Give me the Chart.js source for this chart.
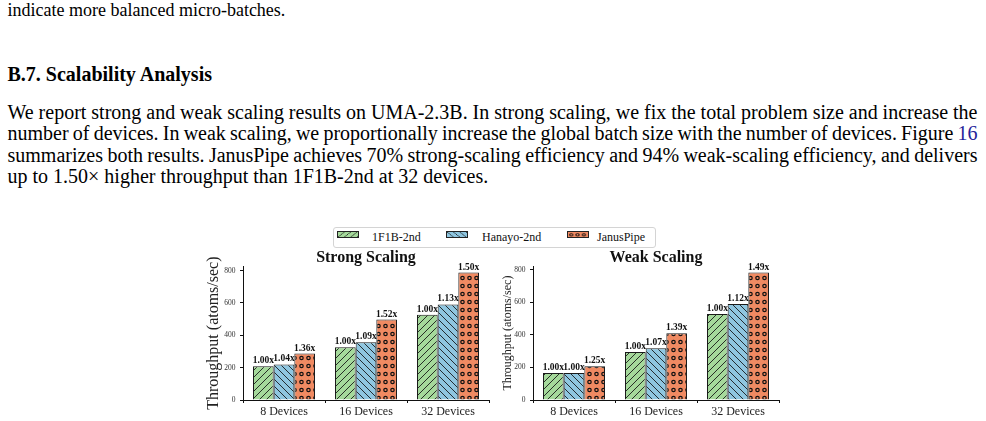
<!DOCTYPE html>
<html>
<head>
<meta charset="utf-8">
<script src="https://cdn.jsdelivr.net/npm/chart.js@4.4.1/dist/chart.umd.min.js"></script>
<style>
  body { margin: 0; background: #fff; }
  .page { position: relative; width: 986px; height: 421px; overflow: hidden; font-family: "Liberation Serif", "Times New Roman", serif; color: #000; }
  .line { position: absolute; left: 7.5px; width: 970px; font-size: 20px; line-height: 21.2px; white-space: nowrap; }
  .caption { font-size: 18px; }
  .bold { font-weight: bold; }
  .ref { color: #24249a; }
  .legend { position: absolute; left: 333px; top: 227px; width: 321px; height: 19px; border: 1px solid #d4d4d4; border-radius: 3px; background: #fff; }
  .swatch { position: absolute; top: 231px; width: 22px; height: 7px; border: 1px solid #222; box-sizing: border-box; }
  .ltext { position: absolute; top: 229px; font-size: 12px; line-height: 16px; white-space: nowrap; color: #111; }
  canvas.chart { position: absolute; top: 242px; }
</style>
</head>
<body>
<div class="page">
  <div class="line caption" style="top:0px">indicate more balanced micro-batches.</div>
  <div class="line bold" style="top:63.7px">B.7. Scalability Analysis</div>
  <div class="line just" style="top:102.2px"><span>We report strong and weak scaling results on UMA-2.3B. In strong scaling, we fix the total problem size and increase the</span></div>
  <div class="line just" style="top:123.4px"><span>number of devices. In weak scaling, we proportionally increase the global batch size with the number of devices. Figure <span class="ref">16</span></span></div>
  <div class="line just" style="top:144.6px"><span>summarizes both results. JanusPipe achieves 70% strong-scaling efficiency and 94% weak-scaling efficiency, and delivers</span></div>
  <div class="line" style="top:165.8px">up to 1.50× higher throughput than 1F1B-2nd at 32 devices.</div>

  <div class="legend"></div>
  <canvas class="swatch" id="sw0" width="22" height="7" style="left:337px"></canvas>
  <div class="ltext" style="left:372px">1F1B-2nd</div>
  <canvas class="swatch" id="sw1" width="22" height="7" style="left:446px"></canvas>
  <div class="ltext" style="left:482px">Hanayo-2nd</div>
  <canvas class="swatch" id="sw2" width="22" height="7" style="left:567px"></canvas>
  <div class="ltext" style="left:597px">JanusPipe</div>

  <canvas class="chart" id="strong" width="290" height="179" style="left:200px"></canvas>
  <canvas class="chart" id="weak" width="290" height="179" style="left:495px"></canvas>
</div>

<script>
const categories = ["8 Devices", "16 Devices", "32 Devices"];
const seriesNames = ["1F1B-2nd", "Hanayo-2nd", "JanusPipe"];

// throughput (atoms/sec)
const strong1F1B = [209, 326, 527];
const strongHanayo = [220, 357, 591];
const strongJanus = [287, 497, 788];
const weak1F1B = [166, 294, 528];
const weakHanayo = [166, 317, 589];
const weakJanus = [207, 410, 782];

// speedup text printed over each bar
const strongSpeed1F1B = ["1.00x", "1.00x", "1.00x"];
const strongSpeedHanayo = ["1.04x", "1.09x", "1.13x"];
const strongSpeedJanus = ["1.36x", "1.52x", "1.50x"];
const weakSpeed1F1B = ["1.00x", "1.00x", "1.00x"];
const weakSpeedHanayo = ["1.00x", "1.07x", "1.12x"];
const weakSpeedJanus = ["1.25x", "1.39x", "1.49x"];

const yTicks = [0, 200, 400, 600, 800];

const colors = ["#a5d99b", "#8fc6e0", "#f08a62"];
const hatches = ["slash", "backslash", "dots"];

// justify the paragraph lines by hand (TeX squeezes spaces, the browser would wrap)
document.querySelectorAll(".just").forEach((el) => {
  const inner = el.firstElementChild;
  const natural = inner.getBoundingClientRect().width;
  const spaces = (inner.textContent.match(/ /g) || []).length;
  el.style.wordSpacing = ((970 - natural) / spaces) + "px";
});

function makePattern(kind, fill) {
  const c = document.createElement("canvas");
  const s = 7;
  c.width = s;
  c.height = kind === "dots" ? 8 : s;
  const g = c.getContext("2d");
  g.fillStyle = fill;
  g.fillRect(0, 0, c.width, c.height);
  g.strokeStyle = "#111";
  g.lineWidth = 0.85;
  g.beginPath();
  if (kind === "slash") {
    g.moveTo(0, s); g.lineTo(s, 0);
    g.moveTo(-1, 1); g.lineTo(1, -1);
    g.moveTo(s - 1, s + 1); g.lineTo(s + 1, s - 1);
    g.stroke();
  } else if (kind === "backslash") {
    g.moveTo(0, 0); g.lineTo(s, s);
    g.moveTo(-1, s - 1); g.lineTo(1, s + 1);
    g.moveTo(s - 1, -1); g.lineTo(s + 1, 1);
    g.stroke();
  } else {
    g.lineWidth = 1.2;
    g.arc(3.5, 4, 1.7, 0, Math.PI * 2);
    g.stroke();
  }
  return g.createPattern(c, "repeat");
}

// legend swatches
for (let i = 0; i < 3; i++) {
  const sw = document.getElementById("sw" + i);
  const g = sw.getContext("2d");
  g.fillStyle = makePattern(hatches[i], colors[i]);
  g.fillRect(0, 0, sw.width, sw.height);
}

Chart.defaults.font.family = '"Liberation Serif", "Times New Roman", serif';
Chart.defaults.color = "#111";

const valueLabels = {
  id: "valueLabels",
  afterDatasetsDraw(chart) {
    const ctx = chart.ctx;
    ctx.save();
    ctx.font = 'bold 9.5px "Liberation Serif", serif';
    ctx.textAlign = "center";
    ctx.textBaseline = "alphabetic";
    ctx.fillStyle = "#111";
    chart.data.datasets.forEach((ds, i) => {
      chart.getDatasetMeta(i).data.forEach((bar, j) => {
        ctx.fillText(ds.speedup[j], bar.x, bar.y - 3);
      });
    });
    ctx.restore();
  }
};

function buildChart(id, title, values, speedups, yMax, yTitleSize, yTitlePad, yWidth, rightPad) {
  const ctx = document.getElementById(id).getContext("2d");
  return new Chart(ctx, {
    type: "bar",
    data: {
      labels: categories,
      datasets: values.map((v, i) => ({
        label: seriesNames[i],
        data: v,
        speedup: speedups[i],
        backgroundColor: makePattern(hatches[i], colors[i]),
        borderColor: "#1a1a1a",
        borderWidth: 1,
        categoryPercentage: 0.756,
        barPercentage: 1.0,
      })),
    },
    options: {
      responsive: false,
      animation: false,
      layout: { padding: { left: 0, right: rightPad, top: 0, bottom: 0 } },
      plugins: {
        legend: { display: false },
        tooltip: { enabled: false },
        title: {
          display: true,
          text: title,
          fullSize: false,
          font: { size: 16, weight: "bold" },
          color: "#111",
          padding: { top: 6.5, bottom: -1.5 },
        },
      },
      scales: {
        x: {
          grid: { display: true, drawOnChartArea: false, drawTicks: true, tickLength: 3, color: "#111" },
          border: { display: true, color: "#111", width: 1 },
          ticks: { font: { size: 12 }, color: "#222", padding: 1.5 },
          afterFit: (scale) => { scale.height = 21; },
        },
        y: {
          min: 0,
          max: yMax,
          afterBuildTicks: (scale) => { scale.ticks = yTicks.map((v) => ({ value: v })); },
          grid: { display: true, drawOnChartArea: false, drawTicks: true, tickLength: 3, color: "#111" },
          border: { display: true, color: "#111", width: 1 },
          ticks: { font: { size: 7.5 }, color: "#333", padding: 4.5 },
          title: {
            display: true,
            text: "Throughput (atoms/sec)",
            font: { size: yTitleSize },
            color: "#222",
            padding: { top: yTitlePad, bottom: 0 },
          },
          afterFit: (scale) => { scale.width = yWidth; },
        },
      },
    },
    plugins: [valueLabels],
  });
}

buildChart("strong", "Strong Scaling",
  [strong1F1B, strongHanayo, strongJanus],
  [strongSpeed1F1B, strongSpeedHanayo, strongSpeedJanus],
  827, 16, 4.4, 43, 1);

buildChart("weak", "Weak Scaling",
  [weak1F1B, weakHanayo, weakJanus],
  [weakSpeed1F1B, weakSpeedHanayo, weakSpeedJanus],
  821, 12, 5.5, 38, 6);
</script>
</body>
</html>
